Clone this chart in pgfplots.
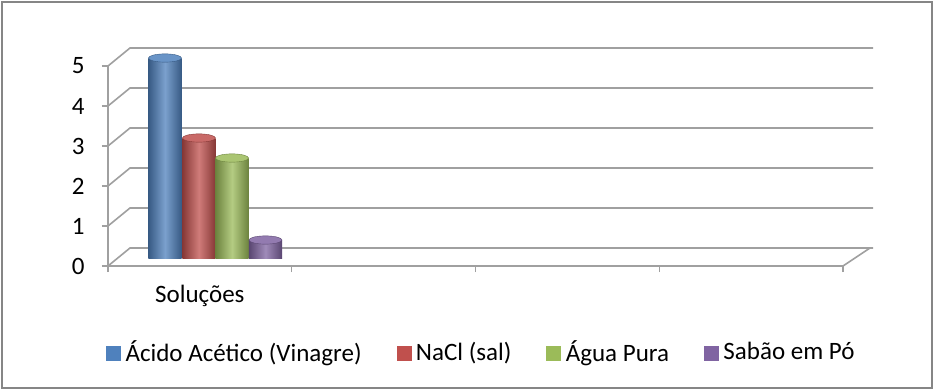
\documentclass[border=0pt]{standalone}
\usepackage{pgfplots}
\pgfplotsset{compat=1.18}
\usepackage{fontspec}
\setmainfont{Carlito}
\definecolor{cblue}{RGB}{79,129,189}
\definecolor{cred}{RGB}{192,80,77}
\definecolor{cgreen}{RGB}{155,187,89}
\definecolor{cpurple}{RGB}{128,100,162}
\definecolor{gridc}{RGB}{160,160,160}
\definecolor{framec}{RGB}{134,134,134}
\begin{document}
\begin{tikzpicture}
\path[use as bounding box] (-108bp,-124bp) rectangle (826bp,266bp);
\fill[white] (-108bp,-124bp) rectangle (826bp,266bp);
\draw[framec, line width=1.5bp] (-106bp,-122bp) rectangle (824bp,264bp);
\begin{axis}[
  at={(0,0)}, anchor=south west,
  scale only axis, width=735bp, height=200bp,
  xmin=0, xmax=4, ymin=0, ymax=5,
  axis lines*=left,
  axis line style={gridc, line width=1.4bp},
  tick style={gridc, line width=1.4bp},
  tick align=outside,
  major tick length=6bp,
  xtick={0,1,2,3,4}, xticklabels={},
  extra x ticks={0.5}, extra x tick labels={Soluções},
  extra x tick style={major tick length=0pt, xticklabel style={yshift=-16bp}},
  ytick={0,1,2,3,4,5},
  yticklabel style={xshift=-14bp},
  /pgf/number format/assume math mode=true,
  tick label style={font=\fontsize{25bp}{29bp}\selectfont, black},
  clip=false,
  legend columns=4,
  legend style={at={(0.508,-0.43)}, anchor=center, draw=none, fill=none,
    font=\fontsize{25bp}{29bp}\selectfont,
    nodes={inner sep=2bp},
    /tikz/every even column/.append style={column sep=33bp},
    /tikz/every odd column/.append style={column sep=3bp}},
]
% back wall / floor decorations
\draw[gridc, line width=1.6bp] (axis cs:0,0) -- ++(22bp,18bp) -- ++(743bp,0);
\draw[gridc, line width=1.6bp] (axis cs:0,1) -- ++(22bp,18bp) -- ++(743bp,0);
\draw[gridc, line width=1.6bp] (axis cs:0,2) -- ++(22bp,18bp) -- ++(743bp,0);
\draw[gridc, line width=1.6bp] (axis cs:0,3) -- ++(22bp,18bp) -- ++(743bp,0);
\draw[gridc, line width=1.6bp] (axis cs:0,4) -- ++(22bp,18bp) -- ++(743bp,0);
\draw[gridc, line width=1.6bp] (axis cs:0,5) -- ++(22bp,18bp) -- ++(743bp,0);
\draw[gridc, line width=1.6bp] (axis cs:4,0) -- ++(27bp,18bp);

\addlegendimage{legend image code/.code={\fill[cblue] (0bp,-8bp) rectangle (14bp,6bp);}}
\addlegendentry{Ácido Acético (Vinagre)}
\addlegendimage{legend image code/.code={\fill[cred] (0bp,-8bp) rectangle (14bp,6bp);}}
\addlegendentry{NaCl (sal)}
\addlegendimage{legend image code/.code={\fill[cgreen] (0bp,-8bp) rectangle (14bp,6bp);}}
\addlegendentry{Água Pura}
\addlegendimage{legend image code/.code={\fill[cpurple] (0bp,-8bp) rectangle (14bp,6bp);}}
\addlegendentry{Sabão em Pó}

\addplot[ybar, bar width=0.18, bar shift=0pt, draw=none, yshift=8bp, forget plot,
  left color=cblue!70!black, right color=cblue!70!black, middle color=cblue!75!white]
  coordinates {(0.31,5)};
\addplot[ybar, bar width=0.18, bar shift=0pt, draw=none, yshift=8bp, forget plot,
  left color=cred!70!black, right color=cred!70!black, middle color=cred!75!white]
  coordinates {(0.495,3)};
\addplot[ybar, bar width=0.18, bar shift=0pt, draw=none, yshift=8bp, forget plot,
  left color=cgreen!70!black, right color=cgreen!70!black, middle color=cgreen!75!white]
  coordinates {(0.675,2.5)};
\addplot[ybar, bar width=0.18, bar shift=0pt, draw=none, yshift=8bp, forget plot,
  left color=cpurple!70!black, right color=cpurple!70!black, middle color=cpurple!75!white]
  coordinates {(0.857,0.45)};
% cylinder caps
\addplot[only marks, mark=*, yshift=8bp, mark size=16.5bp, forget plot,
  mark options={yscale=0.25, fill=cblue!85!white, draw=cblue!70!black}] coordinates {(0.31,5)};
\addplot[only marks, mark=*, yshift=8bp, mark size=16.5bp, forget plot,
  mark options={yscale=0.25, fill=cred!85!white, draw=cred!70!black}] coordinates {(0.495,3)};
\addplot[only marks, mark=*, yshift=8bp, mark size=16.5bp, forget plot,
  mark options={yscale=0.25, fill=cgreen!85!white, draw=cgreen!70!black}] coordinates {(0.675,2.5)};
\addplot[only marks, mark=*, yshift=8bp, mark size=16.5bp, forget plot,
  mark options={yscale=0.25, fill=cpurple!85!white, draw=cpurple!70!black}] coordinates {(0.857,0.45)};
\end{axis}
\end{tikzpicture}
\end{document}
